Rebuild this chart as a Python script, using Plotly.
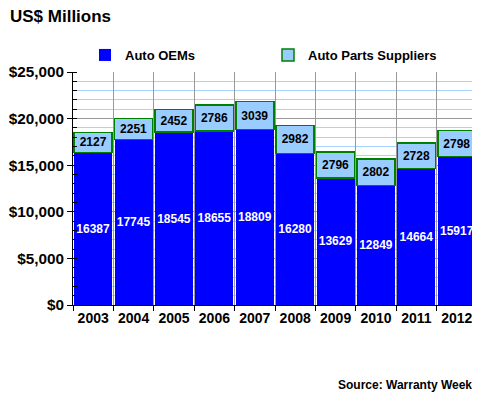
import plotly.graph_objects as go

years = ["2003", "2004", "2005", "2006", "2007", "2008", "2009", "2010", "2011", "2012"]
oems = [16387, 17745, 18545, 18655, 18809, 16280, 13629, 12849, 14664, 15917]
suppliers = [2127, 2251, 2452, 2786, 3039, 2982, 2796, 2802, 2728, 2798]
y_ticks = [0, 5000, 10000, 15000, 20000, 25000]
y_tick_labels = ["$" + format(v, ",d") for v in y_ticks]

FONT = "Arial, Liberation Sans, sans-serif"

# page body has an 8px margin; figure is sized/positioned to compensate
W, H = 472, 390
L, R, T, B = 65, 3, 64, 93
PW, PH = W - L - R, H - T - B

fig = go.Figure()
fig.add_trace(go.Bar(
    x=years, y=oems, name="Auto OEMs",
    marker=dict(color="#0000FF", line=dict(width=0)),
    text=[str(v) for v in oems], textposition="inside", insidetextanchor="middle",
    textangle=0, constraintext="none",
    textfont=dict(family=FONT, size=12, color="white", weight="bold"),
))
fig.add_trace(go.Bar(
    x=years, y=suppliers, name="Auto Parts Suppliers",
    marker=dict(color="#99CCFF", line=dict(color="#008000", width=1.5)),
    text=[str(v) for v in suppliers], textposition="inside", insidetextanchor="middle",
    textangle=0, constraintext="none",
    textfont=dict(family=FONT, size=12, color="black", weight="bold"),
))

fig.update_layout(
    barmode="stack", bargap=0.06,
    width=W, height=H,
    margin=dict(l=L, r=R, t=T, b=B),
    paper_bgcolor="white", plot_bgcolor="white",
    font=dict(family=FONT, color="black"),
    showlegend=True,
    legend=dict(
        orientation="h", x=(77 - L) / PW, xref="paper", xanchor="left",
        y=1.0 + (T - 32) / PH, yanchor="top",
        font=dict(family=FONT, size=13, weight="bold"),
        entrywidth=138, entrywidthmode="pixels",
        traceorder="normal", bgcolor="rgba(0,0,0,0)",
    ),
    annotations=[
        dict(text="<b>US$ Millions</b>", xref="paper", yref="paper",
             x=-L / PW, y=1 + (T - 8) / PH, xanchor="left", yanchor="middle",
             showarrow=False, font=dict(family=FONT, size=17, color="black")),
        dict(text="<b>Source: Warranty Week</b>", xref="paper", yref="paper",
             x=1 + (466 - (W - R)) / PW, y=-(377 - (H - B)) / PH,
             xanchor="right", yanchor="middle",
             showarrow=False, font=dict(family=FONT, size=12, color="black")),
    ],
)

fig.update_xaxes(
    type="category", tickson="boundaries", automargin=False, tickangle=0,
    showgrid=True, gridcolor="#999999", gridwidth=1,
    ticks="outside", ticklen=5, tickcolor="black", tickwidth=1,
    showline=True, linecolor="black", linewidth=1,
    tickfont=dict(family=FONT, size=14, color="black", weight="bold"),
)
fig.update_yaxes(
    range=[0, 25000], tickmode="array", tickvals=y_ticks, ticktext=y_tick_labels,
    automargin=False,
    showgrid=True, gridcolor="#999999", gridwidth=1,
    ticks="outside", ticklen=5, tickcolor="black", tickwidth=1,
    showline=True, linecolor="black", linewidth=1,
    zeroline=False,
    tickfont=dict(family=FONT, size=15.3, color="black", weight="bold"),
    minor=dict(dtick=1000, showgrid=True, gridcolor="#A6D2FF", gridwidth=1,
               ticks="inside", ticklen=4, tickcolor="black"),
)

fig.write_html("out.html")
